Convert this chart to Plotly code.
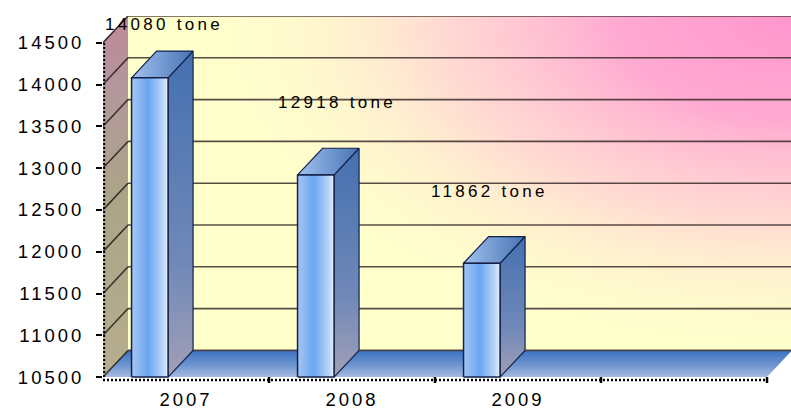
import plotly.graph_objects as go

# ---------------- data ----------------
categories = ["2007", "2008", "2009", ""]
values = [14080, 12918, 11862]
label_suffix = " tone"
y_ticks = [10500, 11000, 11500, 12000, 12500, 13000, 13500, 14000, 14500]

# ---------------- layout / style constants ----------------
W, H = 791, 410
L, R, T, B = 103, 0, 16, 20
PX_PER_CAT = 166.0
PX_PER_VAL = 0.0845
FRONT_BASE_PX = 381
DX_PX, DY_PX = 25, 27
DX = DX_PX / PX_PER_CAT
DY = DY_PX / PX_PER_VAL
y_base = y_ticks[0]
y_wall_top = y_ticks[-1]
n_cat = len(categories)
x_max = (W - L - R) / PX_PER_CAT
y_min = y_base - (H - B - FRONT_BASE_PX) / PX_PER_VAL
y_max = y_base + (FRONT_BASE_PX - T) / PX_PER_VAL
BAR_OFF, BAR_W = 0.172, 0.22
label_x_off = [0.367, 0.41, 0.331]
label_yshift = [53, 72, 72]
FONT = "Liberation Sans, Arial, sans-serif"


def spaced(t, ls):
    return f'<span style="letter-spacing:{ls}px">{t}</span>'


fig = go.Figure()


def poly(xs, ys, fillcolor=None, grad=None, line_color=None, line_width=0):
    xs = list(xs) + [xs[0]]
    ys = list(ys) + [ys[0]]
    kw = dict(x=xs, y=ys, mode="lines", fill="toself", hoverinfo="skip",
              line=dict(color=line_color or "rgba(0,0,0,0)", width=line_width))
    if grad is not None:
        kw["fillgradient"] = grad
        kw["fillcolor"] = grad["colorscale"][0][1]
    else:
        kw["fillcolor"] = fillcolor
    fig.add_trace(go.Scatter(**kw))


# back wall base (pale yellow)
poly([DX, x_max + 1, x_max + 1, DX],
     [y_base + DY, y_base + DY, y_max + 1000, y_max + 1000], fillcolor="#ffffcc")

# pink radial glow from top-right corner
A = 580 / PX_PER_CAT
Bv = 340 / PX_PER_VAL
poly([x_max - A, x_max + A, x_max + A, x_max - A],
     [y_max - Bv, y_max - Bv, y_max + Bv, y_max + Bv],
     grad=dict(type="radial", colorscale=[
         [0.0, "rgba(255,150,205,1)"],
         [0.3, "rgba(255,162,210,0.92)"],
         [0.6, "rgba(255,192,215,0.6)"],
         [0.85, "rgba(255,225,210,0.22)"],
         [1.0, "rgba(255,240,210,0)"]]))

# left wall
poly([0, DX, DX, 0], [y_base, y_base + DY, y_wall_top + DY, y_wall_top],
     grad=dict(type="vertical", colorscale=[
         [0.0, "#b6ae8e"], [0.5, "#aca487"], [0.8, "#b2979c"], [1.0, "#c08898"]]))

# white corner above left wall
poly([0, DX, 0], [y_wall_top, y_max + 500, y_max + 500], fillcolor="#ffffff")

# floor
poly([0, n_cat, n_cat + DX, DX], [y_base, y_base, y_base + DY, y_base + DY],
     grad=dict(type="vertical", colorscale=[
         [0.0, "#a6badf"], [0.45, "#6e95d0"], [1.0, "#3a72c2"]]))

# back-wall gridlines
gx, gy = [], []
for v in y_ticks:
    gx += [DX, x_max + 1, None]
    gy += [v + DY, v + DY, None]
fig.add_trace(go.Scatter(x=gx, y=gy, mode="lines", hoverinfo="skip",
                         line=dict(color="rgba(60,45,45,0.85)", width=1.6)))
# left-wall diagonals
dx_, dy_ = [], []
for v in y_ticks:
    dx_ += [0, DX, None]
    dy_ += [v, v + DY, None]
fig.add_trace(go.Scatter(x=dx_, y=dy_, mode="lines", hoverinfo="skip",
                         line=dict(color="rgba(40,30,30,0.9)", width=1.5)))

# bars
edge = "#14224a"
for i, v in enumerate(values):
    xl = i + BAR_OFF
    xr = xl + BAR_W
    # side face
    poly([xr, xr + DX, xr + DX, xr], [y_base, y_base + DY, v + DY, v],
         grad=dict(type="vertical", colorscale=[
             [0.0, "#a2a0b6"], [0.35, "#7088b8"], [1.0, "#4470b0"]]),
         line_color=edge, line_width=1.2)
    # top face
    poly([xl, xr, xr + DX, xl + DX], [v, v, v + DY, v + DY],
         grad=dict(type="horizontal", colorscale=[
             [0.0, "#a2c2ee"], [1.0, "#4672b4"]]),
         line_color=edge, line_width=1.2)
    # front face
    poly([xl, xr, xr, xl], [y_base, y_base, v, v],
         grad=dict(type="horizontal", colorscale=[
             [0.0, "#a6c6f4"], [0.45, "#6aa6f0"], [0.85, "#b8d4f8"], [1.0, "#e6effc"]]),
         line_color=edge, line_width=1.5)

# dotted axis lines
fig.add_trace(go.Scatter(x=[0.007, 0.007], y=[y_base, y_wall_top], mode="lines",
                         hoverinfo="skip",
                         line=dict(color="black", width=2, dash="2px,2px")))
y_axis_line = y_base - 3 / PX_PER_VAL
fig.add_trace(go.Scatter(x=[0, n_cat], y=[y_axis_line, y_axis_line], mode="lines",
                         hoverinfo="skip",
                         line=dict(color="black", width=2.5, dash="2px,2px")))
# category boundary ticks
tx, ty = [], []
for k in range(1, n_cat + 1):
    tx += [k, k, None]
    ty += [y_base, y_base - 6 / PX_PER_VAL, None]
fig.add_trace(go.Scatter(x=tx, y=ty, mode="lines", hoverinfo="skip",
                         line=dict(color="black", width=2.5)))

# data labels
for i, v in enumerate(values):
    fig.add_annotation(x=i + label_x_off[i], y=v, yshift=label_yshift[i],
                       text=spaced(f"{v}{label_suffix}", 3.3), showarrow=False,
                       xanchor="center", yanchor="middle",
                       font=dict(family=FONT, size=17, color="black"))

fig.update_layout(
    width=W, height=H,
    margin=dict(l=L, r=R, t=T, b=B, pad=0),
    paper_bgcolor="white", plot_bgcolor="white",
    showlegend=False, hovermode=False,
    xaxis=dict(range=[0, x_max], showgrid=False, zeroline=False, showline=False,
               tickvals=[k + 0.5 for k in range(n_cat)],
               ticktext=[spaced(c, 3) for c in categories],
               ticks="", ticklabelstandoff=0,
               tickfont=dict(family=FONT, size=18.5, color="black"), fixedrange=True),
    yaxis=dict(range=[y_min, y_max], showgrid=False, zeroline=False, showline=False,
               tickvals=y_ticks, ticktext=[spaced(str(v), 3) for v in y_ticks],
               ticks="outside", ticklen=6, tickwidth=2, tickcolor="black",
               ticklabelstandoff=8,
               tickfont=dict(family=FONT, size=18.5, color="black"), fixedrange=True),
)

fig.write_html("out.html")
